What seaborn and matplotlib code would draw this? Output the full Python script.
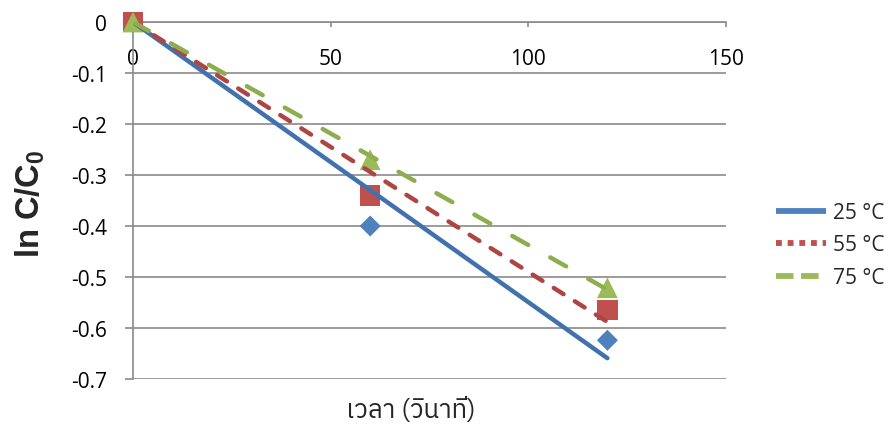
import numpy as np
import pandas as pd
import seaborn as sns
import matplotlib.pyplot as plt
from matplotlib import font_manager
from matplotlib.ft2font import FT2Font
from matplotlib.lines import Line2D

# data
time_s = [0, 60, 120]
temps = ['25 °C', '55 °C', '75 °C']
ln_c_25 = [0.0, -0.40, -0.624]
ln_c_55 = [0.0, -0.34, -0.565]
ln_c_75 = [0.0, -0.27, -0.521]
x_ticks = [0, 50, 100, 150]
y_ticks = [0, -0.1, -0.2, -0.3, -0.4, -0.5, -0.6, -0.7]

marker_colors = {'25 °C': '#4F81BD', '55 °C': '#C0504D', '75 °C': '#9BBB59'}
line_colors = {'25 °C': '#4272AE', '55 °C': '#AE4542', '75 °C': '#8DAE4E'}
markers = {'25 °C': 'D', '55 °C': 's', '75 °C': '^'}
msizes = {'25 °C': 115, '55 °C': 215, '75 °C': 225}


def thai_font():
    # find an installed font that has Thai glyphs
    found = []
    for f in font_manager.fontManager.ttflist:
        try:
            if ord('ว') in FT2Font(f.fname).get_charmap():
                found.append(f.name)
        except Exception:
            pass
    for name in found:
        if 'Thai' in name:
            return name
    return found[0] if found else 'DejaVu Sans'


df = pd.DataFrame({
    'time': time_s * 3,
    'lnc': ln_c_25 + ln_c_55 + ln_c_75,
    'temp': [t for t in temps for _ in time_s],
})

sns.set_style('white')
plt.rcParams['font.family'] = ['Open Sans', 'DejaVu Sans']
plt.rcParams['axes.unicode_minus'] = False
plt.rcParams['mathtext.default'] = 'regular'

fig = plt.figure(figsize=(8.91, 4.27), dpi=100)
ax = fig.add_axes([133 / 891, 1 - 380 / 427, (726 - 133) / 891, (380 - 23) / 427])

sns.scatterplot(data=df, x='time', y='lnc', hue='temp', style='temp', size='temp',
                palette=marker_colors, markers=markers, sizes=msizes,
                linewidth=0, legend=False, ax=ax, zorder=3, clip_on=False)

# linear trendlines forced through the origin
dash_styles = {'25 °C': None, '55 °C': (2.6, 3.0), '75 °C': (4.1, 5.7)}
for t in temps:
    sub = df[df['temp'] == t]
    slope = np.sum(sub['time'] * sub['lnc']) / np.sum(sub['time'] ** 2)
    fit = pd.DataFrame({'time': [0, 120]})
    fit['lnc'] = slope * fit['time']
    kw = dict(color=line_colors[t], linewidth=3.2, ax=ax, zorder=4)
    if dash_styles[t] is None:
        kw['solid_capstyle'] = 'round'
    else:
        kw['dashes'] = dash_styles[t]
        kw['dash_capstyle'] = 'round'
    sns.lineplot(data=fit, x='time', y='lnc', **kw)

ax.set_xlim(0, 150)
ax.set_ylim(-0.7, 0)
ax.set_xticks(x_ticks)
ax.set_xticklabels([str(v) for v in x_ticks])
ax.set_yticks(y_ticks)
ax.set_yticklabels(['0' if v == 0 else f'{v:.1f}' for v in y_ticks])

ax.yaxis.grid(True, color='#8a8a8a', linewidth=1.2)
ax.xaxis.grid(False)
for s in ['top', 'right']:
    ax.spines[s].set_visible(False)
ax.spines['bottom'].set_position(('data', 0))
ax.spines['bottom'].set_color('#8a8a8a')
ax.spines['left'].set_color('#8a8a8a')
ax.spines['bottom'].set_linewidth(1.2)
ax.spines['left'].set_linewidth(1.2)
ax.tick_params(axis='y', direction='out', length=5.8, width=1.2, color='#8a8a8a',
               pad=13, labelsize=15, labelcolor='black', left=True)
ax.tick_params(axis='x', direction='out', length=3.6, width=1.2, color='#8a8a8a',
               pad=15, labelsize=15, labelcolor='black', bottom=True)
ax.set_xlabel('')
ax.set_ylabel('')

fig.text(30 / 891, 1 - 204 / 427, r'ln C/C$_\mathregular{0}$', rotation=90,
         ha='center', va='center', fontsize=23.5, fontweight='bold',
         family=['Liberation Sans', 'DejaVu Sans'])
fig.text(411 / 891, 1 - 410 / 427, 'เวลา (วินาที)', ha='center', va='center',
         fontsize=18.5, family=[thai_font(), 'DejaVu Sans'])

handles = [
    Line2D([], [], color=marker_colors['25 °C'], linewidth=4.2, solid_capstyle='butt'),
    Line2D([], [], color=marker_colors['55 °C'], linewidth=4.2, dashes=(1, 1), dash_capstyle='butt'),
    Line2D([], [], color=marker_colors['75 °C'], linewidth=4.2, dashes=(3, 1.3), dash_capstyle='butt'),
]
fig.legend(handles, temps, loc='center left', bbox_to_anchor=(776 / 891, 1 - 246 / 427),
           frameon=False, fontsize=15, handlelength=2.4, handletextpad=0.35,
           labelspacing=0.55, borderpad=0, borderaxespad=0)

fig.savefig('out.png', dpi=100)
